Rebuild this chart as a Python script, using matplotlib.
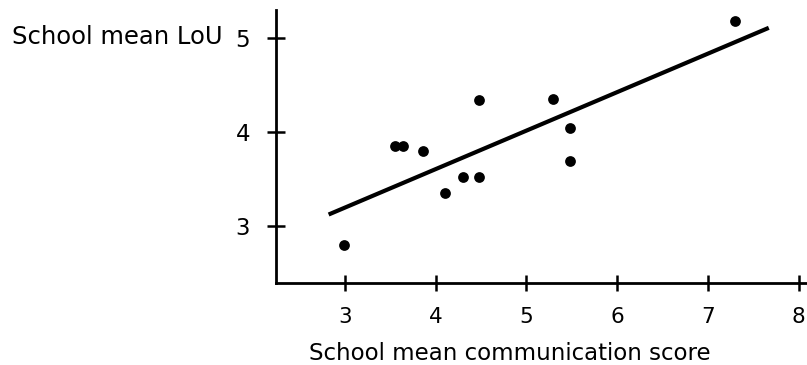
import matplotlib
matplotlib.use("Agg")
import matplotlib.pyplot as plt

plt.rcParams['font.family'] = ['DejaVu Sans']

comm_score = [2.99, 3.55, 3.64, 3.86, 4.10, 4.30, 4.48, 4.48, 5.29, 5.48, 5.48, 7.30]
mean_lou = [2.80, 3.85, 3.85, 3.80, 3.35, 3.52, 3.52, 4.34, 4.35, 4.04, 3.69, 5.18]
fit_x = [2.82, 7.67]
fit_y = [3.12, 5.11]
x_ticks = [3, 4, 5, 6, 7, 8]
y_ticks = [3, 4, 5]

W, H = 807, 365
fig = plt.figure(figsize=(W / 100, H / 100), dpi=100)
ax = fig.add_axes([276 / W, 1 - 283 / H, (806 - 276) / W, (283 - 10) / H])

ax.plot(fit_x, fit_y, color='black', lw=3.0, solid_capstyle='butt', zorder=2)
ax.scatter(comm_score, mean_lou, s=60, color='black', zorder=3, linewidths=0)

ax.set_xlim(2.24, 8.08)
ax.set_ylim(2.39, 5.30)
ax.set_xticks(x_ticks)
ax.set_yticks(y_ticks)
for s in ['top', 'right']:
    ax.spines[s].set_visible(False)
for s in ['left', 'bottom']:
    ax.spines[s].set_linewidth(2.0)
ax.tick_params(axis='x', direction='inout', length=12, width=1.8, pad=11, labelsize=15.5)
ax.tick_params(axis='y', direction='inout', length=13.5, width=1.8, pad=12, labelsize=16.5)

fig.text(12 / W, 1 - 44 / H, 'School mean LoU', fontsize=17.5, va='baseline', ha='left')
fig.text(309 / W, 1 - 360 / H, 'School mean communication score', fontsize=16.5,
         va='baseline', ha='left')

fig.savefig('out.png', dpi=100)
